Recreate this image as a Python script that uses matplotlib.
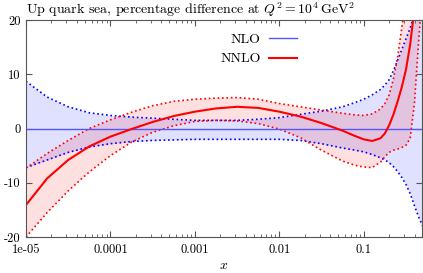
import numpy as np
import matplotlib
matplotlib.use("Agg")
import matplotlib.pyplot as plt
from matplotlib.ticker import FixedLocator, FixedFormatter, LogLocator, NullFormatter

plt.rcParams['font.family'] = 'serif'
plt.rcParams['font.serif'] = ['cmr10']
plt.rcParams['mathtext.fontset'] = 'cm'
plt.rcParams['axes.unicode_minus'] = False
plt.rcParams['axes.formatter.use_mathtext'] = True

# x grid
x = [1e-5, 1.78e-5, 3.16e-5, 5.62e-5, 1e-4, 1.78e-4, 3.16e-4, 5.62e-4,
     1e-3, 1.78e-3, 3.16e-3, 5.62e-3, 1e-2, 1.78e-2, 3.16e-2, 5.62e-2,
     0.0794, 0.1, 0.126, 0.158, 0.178, 0.2, 0.224, 0.251, 0.282, 0.316,
     0.355, 0.398, 0.447, 0.5]

# NLO: central line and band edges (percent)
nlo_mid = [0.0] * len(x)
nlo_up = [8.7, 5.8, 4.0, 2.9, 2.4, 2.1, 1.9, 1.7, 1.5, 1.5, 1.5, 1.7, 2.0, 2.6, 3.2, 4.0,
          4.8, 5.4, 6.2, 7.2, 8.0, 9.0, 10.6, 12.5, 14.5, 16.5, 18.5, 21.0, 24.0, 27.0]
nlo_lo = [-7.2, -5.8, -4.4, -3.4, -2.8, -2.4, -2.2, -2.1, -2.0, -2.0, -2.0, -2.0, -2.0, -2.2, -2.8, -3.6,
          -4.0, -4.3, -4.8, -5.4, -5.8, -6.3, -7.0, -7.9, -9.0, -10.3, -12.0, -14.2, -16.3, -18.0]

# NNLO: central line and band edges (percent)
nnlo_mid = [-14.1, -9.2, -5.8, -3.3, -1.5, -0.1, 1.2, 2.3, 3.1, 3.7, 4.0, 3.8, 3.1, 2.2, 1.0, -0.4,
            -1.4, -2.0, -2.3, -1.8, -0.9, 0.6, 2.5, 4.9, 7.6, 10.8, 15.5, 22.0, 28.0, 34.0]
nnlo_up = [-7.3, -4.6, -2.2, 0.0, 1.6, 3.0, 4.2, 5.0, 5.4, 5.6, 5.7, 5.4, 4.6, 4.0, 3.4, 2.8,
           2.5, 2.4, 2.7, 3.6, 4.6, 6.2, 9.0, 13.0, 18.5, 24.0, 30.0, 35.0, 40.0, 45.0]
nnlo_lo = [-20.0, -15.5, -11.5, -8.0, -5.0, -2.5, -0.7, 0.5, 1.3, 1.5, 1.4, 0.9, -0.1, -1.7, -4.0, -6.0,
           -6.8, -7.1, -7.2, -6.2, -5.2, -4.4, -4.0, -3.8, -3.5, -3.1, -1.8, 4.5, 16.0, 26.0]

xticks = [1e-5, 1e-4, 1e-3, 1e-2, 0.1]
xticklabels = ['1e-05', '0.0001', '0.001', '0.01', '0.1']
yticks = [-20, -10, 0, 10, 20]

fig = plt.figure(figsize=(4.23, 2.73), dpi=100)
ax = fig.add_axes([26 / 423, 1 - 237 / 273, 396 / 423, 217 / 273])

blue = '#0000ff'
red = '#ff0000'

ax.fill_between(x, nlo_lo, nlo_up, color=blue, alpha=0.12, lw=0)
ax.plot(x, nlo_up, ':', color=blue, lw=1.2)
ax.plot(x, nlo_lo, ':', color=blue, lw=1.2)

ax.fill_between(x, nnlo_lo, nnlo_up, color=red, alpha=0.12, lw=0)
ax.plot(x, nnlo_up, ':', color=red, lw=1.2)
ax.plot(x, nnlo_lo, ':', color=red, lw=1.2)

ax.plot(x, nlo_mid, '-', color='#5555ff', lw=1.0, label='NLO')
ax.plot(x, nnlo_mid, '-', color=red, lw=1.5, label='NNLO')

ax.set_xscale('log')
ax.set_xlim(1e-5, 0.49)
ax.set_ylim(-20, 20)

ax.xaxis.set_major_locator(FixedLocator(xticks))
ax.xaxis.set_major_formatter(FixedFormatter(xticklabels))
ax.xaxis.set_minor_locator(LogLocator(base=10, subs=np.arange(2, 10)))
ax.xaxis.set_minor_formatter(NullFormatter())
ax.set_yticks(yticks)
ax.set_yticklabels([str(v) for v in yticks])

ax.tick_params(which='both', direction='in', top=True, right=True,
               labelsize=9, color='#555555')
ax.tick_params(axis='x', pad=5)
ax.tick_params(axis='y', pad=4)
ax.tick_params(which='major', length=4)
ax.tick_params(which='minor', length=2)
for s in ax.spines.values():
    s.set_color('#555555')
    s.set_linewidth(0.8)

ax.set_xlabel('$x$', fontsize=10, labelpad=3)
ax.set_title(r'Up quark sea, percentage difference at $Q^2 = 10^4\,\mathrm{GeV}^2$',
             loc='left', fontsize=10, pad=4)

ax.legend(loc='upper right', bbox_to_anchor=(297 / 423, 1 - 33 / 273),
          bbox_transform=fig.transFigure, frameon=False, markerfirst=False,
          fontsize=10, handlelength=2.0, handletextpad=0.6, labelspacing=0.5,
          borderpad=0, borderaxespad=0)

fig.savefig('out.png', dpi=100)
